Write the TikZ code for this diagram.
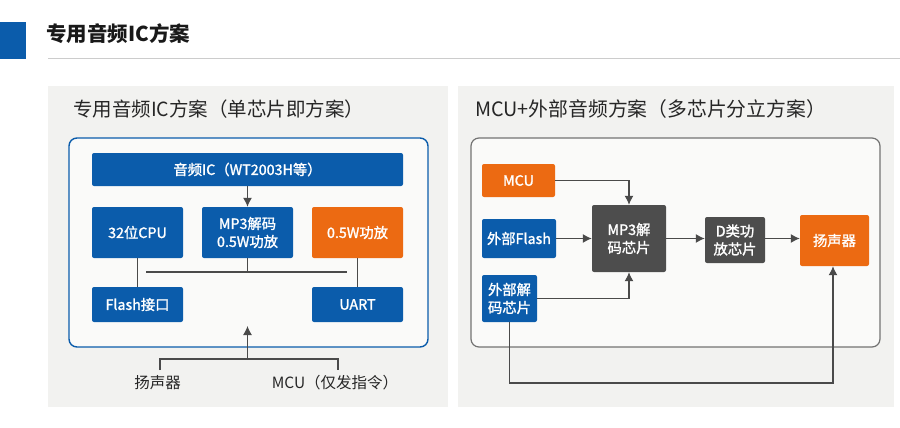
\documentclass[tikz,border=0pt]{standalone}
\usepackage{fontspec}
\setmainfont{Noto Sans CJK SC}
\newfontfamily\boxfont[FakeBold=1.5]{Noto Sans CJK SC}
\usetikzlibrary{arrows.meta}
\definecolor{bluebox}{HTML}{0B5CAB}
\definecolor{orangebox}{HTML}{EC6A12}
\definecolor{greybox}{HTML}{4D4D4D}
\definecolor{panelbg}{HTML}{F2F2F0}
\definecolor{linegrey}{HTML}{4A4A4A}
\tikzset{
  x=1pt,y=-1pt,
  boxbase/.style={inner sep=0pt,rounded corners=2pt,text=white,align=center,font=\fontsize{14.3}{18}\boxfont},
  bluenode/.style={boxbase,fill=bluebox},
  orangenode/.style={boxbase,fill=orangebox},
  greynode/.style={boxbase,fill=greybox},
  conn/.style={draw=linegrey,line width=1.2pt},
  arr/.style={conn,-{Latex[length=9pt,width=9pt]}},
  paneltitle/.style={inner sep=0pt,anchor=west,text=black!85,font=\fontsize{19.5}{22}\selectfont},
  plain/.style={inner sep=0pt,text=black!85,font=\fontsize{15.5}{18}\selectfont},
}
\begin{document}
\begin{tikzpicture}
\useasboundingbox (0,0) rectangle (900,428);
\fill[white] (0,0) rectangle (900,428);
% header
\fill[bluebox] (0,22) rectangle (26,59);
\draw[black!20,line width=1pt] (48,59) -- (900,59);
\node[inner sep=0pt,anchor=west,text=black!90,font=\fontsize{20.5}{24}\selectfont\bfseries] (head) at (46,34) {专用音频IC方案};
% panels
\fill[panelbg] (48,86) rectangle (448,407);
\fill[panelbg] (458,86) rectangle (894,407);
\node[paneltitle] (ltitle) at (73,109) {专用音频IC方案（单芯片即方案）};
\node[paneltitle,font=\fontsize{19.8}{22}\selectfont] (rtitle) at (475,109) {MCU+外部音频方案（多芯片分立方案）};
% left
\draw[bluebox,line width=1.4pt,fill=white!60!panelbg,rounded corners=8pt] (69,138) rectangle (428,347);
\node[bluenode,minimum width=311pt,minimum height=33pt] (ic) at (247.5,169.5) {音频IC（WT2003H等）};
\node[bluenode,minimum width=91pt,minimum height=51pt] (cpu) at (137.5,232.5) {32位CPU};
\node[bluenode,minimum width=91pt,minimum height=51pt] (mp3) at (247.5,232.5) {MP3解码\\0.5W功放};
\node[orangenode,minimum width=91pt,minimum height=51pt] (amp) at (357.5,232.5) {0.5W功放};
\node[bluenode,minimum width=91pt,minimum height=35pt] (flash) at (137.5,304.5) {Flash接口};
\node[bluenode,minimum width=91pt,minimum height=35pt] (uart) at (357.5,304.5) {UART};
\coordinate (busl) at (146,272);
\coordinate (busr) at (347,272);
\coordinate (tipl) at (247.5,326);
\coordinate (forkl) at (160,359);
\coordinate (forkr) at (338,359);
\coordinate (forkm) at (247.5,359);
\coordinate (endl) at (160,370);
\coordinate (endr) at (338,370);
\draw[arr] (ic) -- (mp3);
\draw[conn] (cpu) -- (flash);
\draw[conn] (amp) -- (uart);
\draw[conn] (busl) -- (busr);
\draw[conn] (mp3.south) -- (mp3.south|-busl);
\draw[conn] (endl) -- (forkl) -- (forkr) -- (endr);
\draw[arr] (forkm) -- (tipl);
\node[plain] (spkl) at (157.5,383) {扬声器};
\node[plain] (mcul) at (335,383) {MCU（仅发指令）};
% right
\draw[black!55,line width=1.2pt,fill=white!60!panelbg,rounded corners=8pt] (471,138) rectangle (880,347);
\node[orangenode,minimum width=73pt,minimum height=33pt] (rmcu) at (518.5,180.5) {MCU};
\node[bluenode,minimum width=74pt,minimum height=39pt] (rflash) at (519,238.5) {外部Flash};
\node[bluenode,minimum width=55pt,minimum height=47pt] (rdec) at (509.5,298.5) {外部解\\码芯片};
\node[greynode,minimum width=74pt,minimum height=67pt] (rmp3) at (629,238.5) {MP3解\\码芯片};
\node[greynode,minimum width=60pt,minimum height=46pt] (rd) at (735,240) {D类功\\放芯片};
\node[orangenode,minimum width=69pt,minimum height=51pt] (rspk) at (834.5,240.5) {扬声器};
\coordinate (lowl) at (509.5,383);
\coordinate (lowr) at (833,383);
\draw[arr] (rmcu.east) -| (rmp3.north);
\draw[arr] (rflash.east) -- (rflash.east-|rmp3.west);
\draw[arr] (rdec.east) -| (rmp3.south);
\draw[arr] (rmp3.east) -- (rmp3.east-|rd.west);
\draw[arr] (rd.east|-rmp3.east) -- (rspk.west|-rmp3.east);
\draw[arr] (rdec.south) -- (lowl) -- (lowr) -- (lowr|-rspk.south);
\end{tikzpicture}
\end{document}
